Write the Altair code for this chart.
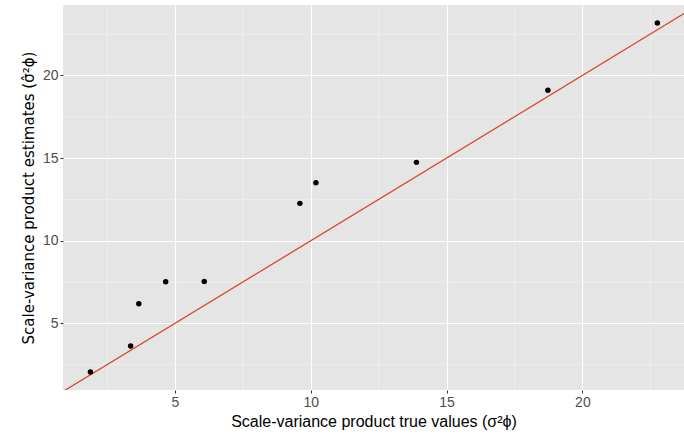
import altair as alt
import pandas as pd

true_vals = [1.89, 3.37, 3.67, 4.66, 6.08, 9.60, 10.19, 13.89, 18.73, 22.76]
est_vals = [2.06, 3.63, 6.19, 7.52, 7.54, 12.26, 13.51, 14.74, 19.10, 23.17]

x_domain = [0.88, 23.74]
y_domain = [0.97, 24.26]
major_ticks = [5, 10, 15, 20]
minor_x = [2.5, 7.5, 12.5, 17.5, 22.5]
minor_y = [2.5, 7.5, 12.5, 17.5, 22.5]

pts = pd.DataFrame({"x": true_vals, "y": est_vals})
line_df = pd.DataFrame({"x": x_domain, "y": x_domain})
mx = pd.DataFrame({"v": minor_x})
my = pd.DataFrame({"v": minor_y})

FONT = "Liberation Sans"

xscale = alt.Scale(domain=x_domain, nice=False, zero=False)
yscale = alt.Scale(domain=y_domain, nice=False, zero=False)

xaxis = alt.Axis(values=major_ticks, title="Scale-variance product true values (σ²ϕ)",
                 grid=True, gridColor="white", gridWidth=1.1, domain=False,
                 tickColor="#333333", tickSize=3, labelColor="#4D4D4D",
                 labelFontSize=14, labelPadding=2, labelFont=FONT,
                 titleFont=FONT, titleFontSize=16, titleFontWeight="normal",
                 titleColor="black", titlePadding=4)
yaxis = alt.Axis(values=major_ticks, title="Scale-variance product estimates (σ̂²ϕ)",
                 grid=True, gridColor="white", gridWidth=1.1, domain=False,
                 tickColor="#333333", tickSize=3, labelColor="#4D4D4D",
                 labelFontSize=14, labelPadding=2, labelFont=FONT,
                 titleFont="DejaVu Sans", titleFontSize=15, titleFontWeight="normal",
                 titleColor="black", titlePadding=6)

minor_v = alt.Chart(mx).mark_rule(color="#F0F0F0", strokeWidth=0.8).encode(
    x=alt.X("v:Q", scale=xscale, axis=xaxis))
minor_h = alt.Chart(my).mark_rule(color="#F0F0F0", strokeWidth=0.8).encode(
    y=alt.Y("v:Q", scale=yscale, axis=yaxis))

abline = alt.Chart(line_df).mark_line(color="#D9472F", strokeWidth=1.3, clip=True).encode(
    x=alt.X("x:Q", scale=xscale, axis=xaxis),
    y=alt.Y("y:Q", scale=yscale, axis=yaxis))

points = alt.Chart(pts).mark_circle(color="black", size=30, opacity=1).encode(
    x=alt.X("x:Q", scale=xscale, axis=xaxis),
    y=alt.Y("y:Q", scale=yscale, axis=yaxis))

chart = alt.layer(minor_v, minor_h, abline, points).properties(
    width=621, height=385,
    padding={"left": 63, "top": 5, "right": 0, "bottom": 45},
    autosize=alt.AutoSizeParams(type="none"),
    background="white",
).configure_view(fill="#E5E5E5", stroke=None)

chart.save("out.html", embed_options={"renderer": "svg", "actions": False})
